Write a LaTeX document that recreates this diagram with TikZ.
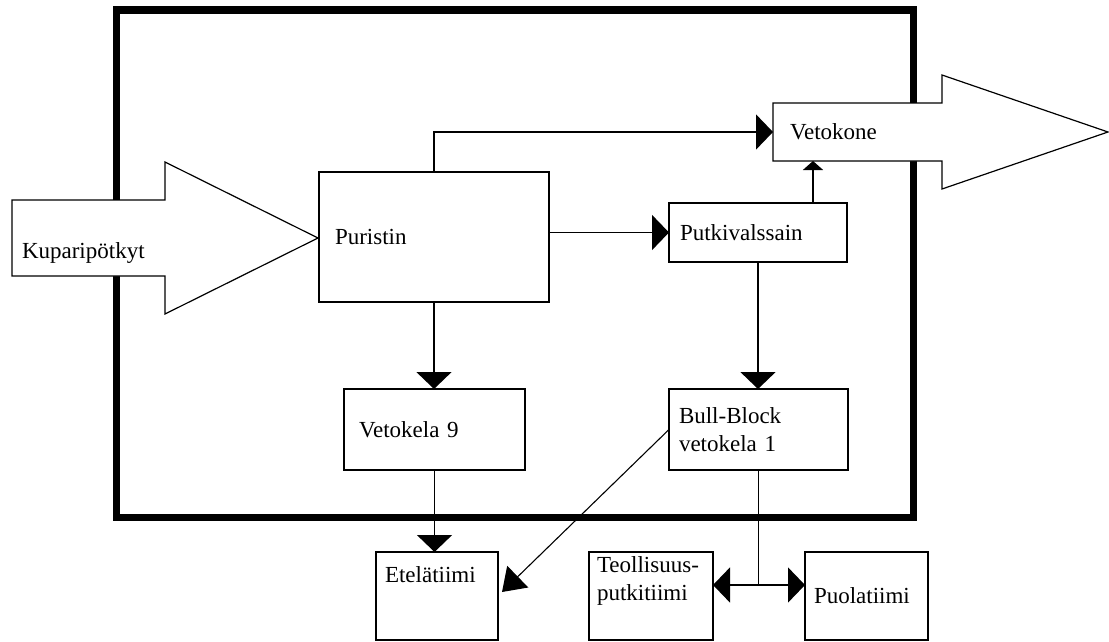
\documentclass[tikz,border=0pt]{standalone}
\usepackage{fontspec}
\setmainfont{Liberation Serif}
\usetikzlibrary{arrows.meta,positioning}
\tikzset{
  box/.style={draw, line width=1.5pt, fill=white, anchor=north west, align=left, inner sep=0pt, outer sep=0pt},
  lbl/.style={inner sep=0pt, outer sep=0pt, align=left},
  bigarrow/.style={draw, line width=1.2pt, fill=white, line join=miter},
  conn/.style={line width=1.6pt, -{Triangle[length=17pt,width=35pt]}},
  smallconn/.style={line width=1.6pt, -{Triangle[length=9pt,width=20pt]}},
  diagconn/.style={line width=1.1pt, -{Triangle[length=22pt,width=30pt]}},
}
\begin{document}
\begin{tikzpicture}[x=1pt, y=-1pt, font=\fontsize{23}{28.5}\selectfont]
  \useasboundingbox (0,0) rectangle (1109,642);
  \draw[line width=7.5pt] (116.5,10) rectangle (913.5,517.5);
  \draw[bigarrow] (12,200) -- (165,200) -- (165,162) -- (318,238) -- (165,314) -- (165,276) -- (12,276) -- cycle;
  \draw[bigarrow] (773,103) -- (942,103) -- (942,75) -- (1108,132) -- (942,189) -- (942,161) -- (773,161) -- cycle;
  \node[lbl, anchor=west] (kupari) at (22,253) {Kuparipötkyt};
  \node[lbl, anchor=north west, minimum height=58pt, text width=135pt, inner xsep=17pt] (vetokone) at (773,103) {Vetokone};
  \node[box, minimum height=130pt, text width=198pt, inner xsep=16pt] (puristin) at (319,172) {Puristin};
  \node[box, minimum height=59pt, text width=156pt, inner xsep=11pt] (putki) at (669,203) {Putkivalssain};
  \node[box, minimum height=81pt, text width=151pt, inner xsep=15pt] (vetokela) at (344,389) {Vetokela 9};
  \node[box, minimum height=81pt, text width=159pt, inner xsep=10pt] (bull) at (669,389) {Bull-Block\\vetokela 1};
  \node[box, minimum width=122pt, minimum height=88pt] (etela) at (376,552) {};
  \node[lbl, anchor=west] (etelatxt) at ([xshift=9pt,yshift=-23pt]etela.north west) {Etelätiimi};
  \node[box, minimum width=124pt, minimum height=88pt] (teoll) at (589,552) {};
  \node[lbl, anchor=west] (teolltxt) at ([xshift=8pt,yshift=-29pt]teoll.north west) {Teollisuus-\\putkitiimi};
  \node[box, minimum height=88pt, text width=105pt, inner xsep=9pt] (puola) at (805,552) {Puolatiimi};
  \coordinate (split) at ([yshift=-115pt]bull.south);
  \draw[conn] (puristin.north) |- (vetokone.west);
  \draw[conn] (puristin.east |- putki.west) -- (putki.west);
  \draw[conn] (puristin.south) -- (puristin.south |- vetokela.north);
  \draw[conn] (vetokela.south) -- (vetokela.south |- etela.north);
  \draw[smallconn] ([xshift=55pt]putki.north) -- ([xshift=55pt]putki.north |- vetokone.south);
  \draw[conn] (putki.south) -- (putki.south |- bull.north);
  \draw[diagconn] (bull.west) -- ([xshift=4pt,yshift=4pt]etela.east);
  \draw[line width=1.6pt] (bull.south) -- (split);
  \draw[conn] (split) -- (split -| teoll.east);
  \draw[conn] (split) -- (split -| puola.west);
\end{tikzpicture}
\end{document}
